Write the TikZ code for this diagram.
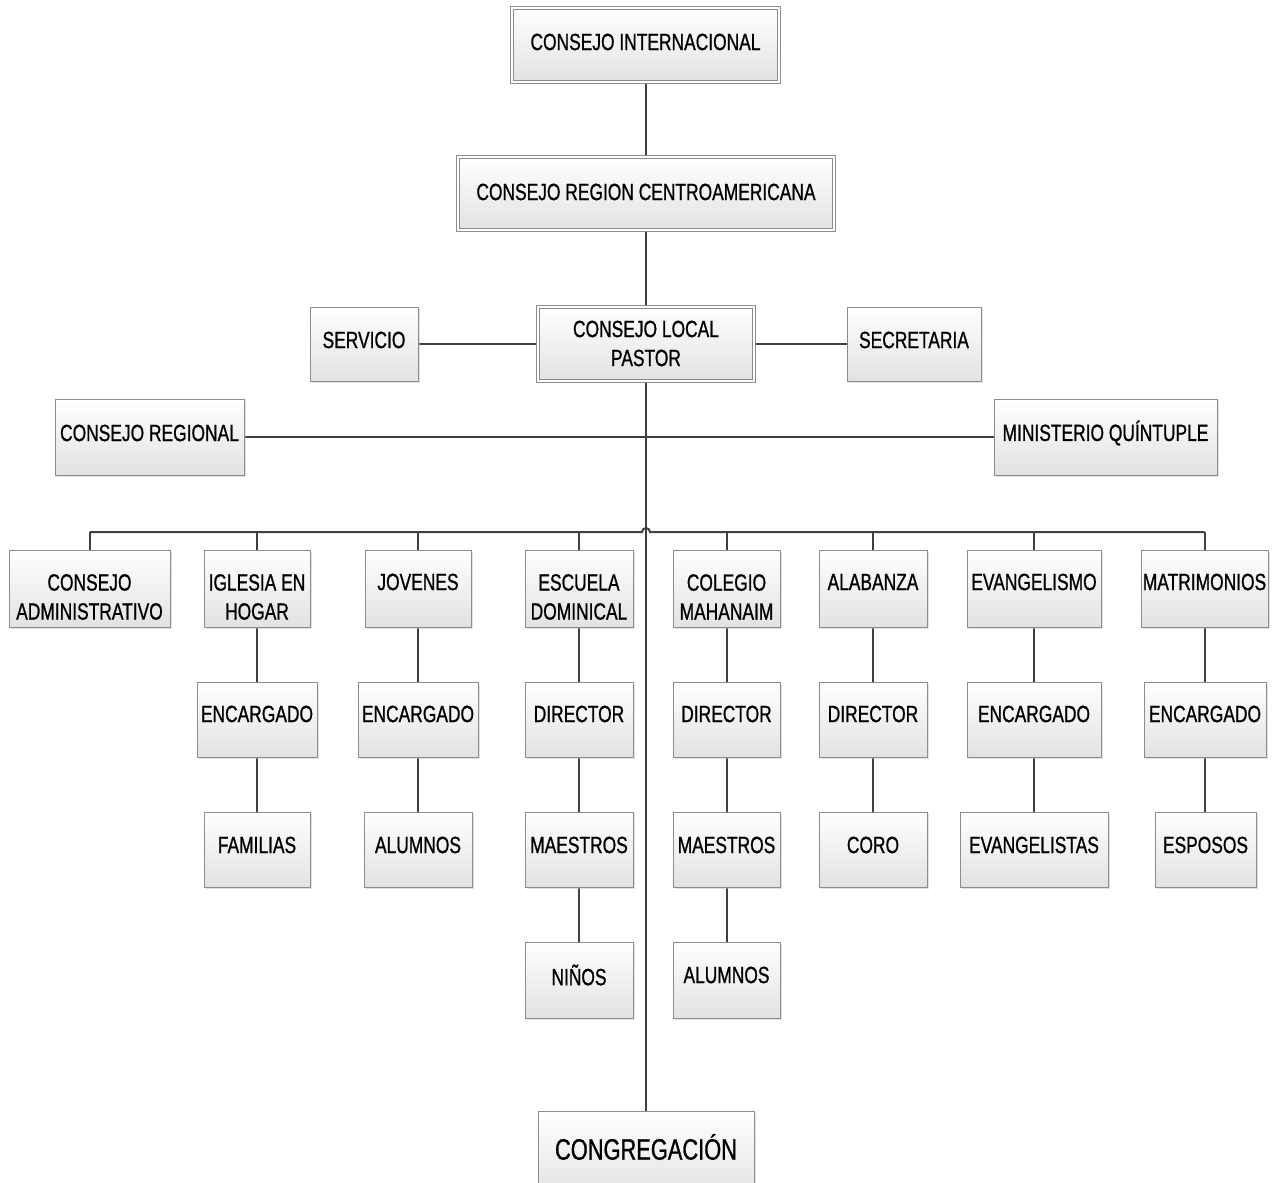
\documentclass[tikz,border=0pt]{standalone}
\usepackage{fontspec}
\setmainfont[FakeStretch=0.74,FakeBold=0.9]{Liberation Sans}
\usetikzlibrary{shadows}
\definecolor{lineC}{HTML}{404040}
\definecolor{bord}{HTML}{8C8C8C}
\definecolor{botC}{HTML}{E2E2E2}
\pgfdeclarelayer{bgzero}
\pgfdeclarelayer{lines}
\pgfsetlayers{bgzero,lines,main}
\tikzset{
  box/.style={draw=bord, line width=0.9pt, top color=white, bottom color=botC,
    drop shadow={shadow xshift=2pt, shadow yshift=-2pt, fill=black!25, opacity=0.45},
    inner sep=0pt},
  dbox/.style={box, draw=bord, line width=0.8pt, double=white, double distance=1.8pt},
  txt/.style={font=\fontsize{23.5}{29}\selectfont, align=center, inner sep=0pt, text=black},
  conn/.style={draw=lineC, line width=2pt}
}
\newcommand\obox[8][box]{%
  \node[#1, minimum width={#5-#3}, minimum height={#6-#4}] (#2) at ({(#3+#5)/2},{(#4+#6)/2}) {};
  \node[txt] (#2-t) at ({(#3+#5)/2},#7) {#8};}
\begin{document}
\begin{tikzpicture}[x=1pt,y=-1pt]
\useasboundingbox (0,0) rectangle (1278,1183);
\clip (0,0) rectangle (1278,1183);
\begin{pgfonlayer}{bgzero}
\fill[white] (0,0) rectangle (1278,1183);
\end{pgfonlayer}
% top hierarchy
\obox[dbox]{intl}{512}{8}{779}{82}{42}{CONSEJO INTERNACIONAL}
\obox[dbox]{region}{458}{157}{834}{230}{192}{CONSEJO REGION CENTROAMERICANA}
\obox[dbox]{local}{538}{307}{754}{381}{343.5}{CONSEJO LOCAL\\PASTOR}
\obox{serv}{310}{307}{418}{381}{340}{SERVICIO}
\obox{secr}{847}{307}{981}{381}{340}{SECRETARIA}
\obox{reg}{55}{399}{244}{475}{433}{CONSEJO REGIONAL}
\obox{min}{994}{399}{1217}{475}{433}{MINISTERIO QUÍNTUPLE}
% row 1
\obox{adm}{9}{550}{170}{627}{597}{CONSEJO\\ADMINISTRATIVO}
\obox{igl}{204}{550}{310}{627}{597}{IGLESIA EN\\HOGAR}
\obox{jov}{365}{550}{471}{627}{582}{JOVENES}
\obox{esc}{525}{550}{633}{627}{597}{ESCUELA\\DOMINICAL}
\obox{col}{673}{550}{780}{627}{597}{COLEGIO\\MAHANAIM}
\obox{ala}{819}{550}{927}{627}{582}{ALABANZA}
\obox{eva}{967}{550}{1101}{627}{582}{EVANGELISMO}
\obox{mat}{1141}{550}{1268}{627}{582}{MATRIMONIOS}
% row 2
\obox{encA}{197}{682}{317}{757}{714}{ENCARGADO}
\obox{encB}{358}{682}{478}{757}{714}{ENCARGADO}
\obox{dirA}{525}{682}{633}{757}{714}{DIRECTOR}
\obox{dirB}{673}{682}{780}{757}{714}{DIRECTOR}
\obox{dirC}{819}{682}{927}{757}{714}{DIRECTOR}
\obox{encC}{967}{682}{1101}{757}{714}{ENCARGADO}
\obox{encD}{1144}{682}{1266}{757}{714}{ENCARGADO}
% row 3
\obox{fam}{204}{812}{310}{887}{845}{FAMILIAS}
\obox{aluA}{364}{812}{472}{887}{845}{ALUMNOS}
\obox{maeA}{525}{812}{633}{887}{845}{MAESTROS}
\obox{maeB}{673}{812}{780}{887}{845}{MAESTROS}
\obox{coro}{819}{812}{927}{887}{845}{CORO}
\obox{evs}{960}{812}{1108}{887}{845}{EVANGELISTAS}
\obox{esp}{1155}{812}{1256}{887}{845}{ESPOSOS}
% row 4
\obox{nin}{525}{942}{633}{1018}{975}{NIÑOS}
\obox{aluB}{673}{942}{780}{1018}{975}{ALUMNOS}
\obox{congr}{538}{1111}{754}{1200}{1147}{\fontsize{29.5}{35}\selectfont CONGREGACIÓN}
% connectors
\begin{pgfonlayer}{lines}
\draw[conn] (intl.south) -- (intl.south |- region.north);
\draw[conn] (region.south) -- (region.south |- local.north);
\draw[conn] (serv) -- (local);
\draw[conn] (local) -- (secr);
\draw[conn] (local.south) -- (local.south |- congr.north);
\draw[conn] (reg) -- (min);
\coordinate (bl) at (89.5,532);
\coordinate (hop) at (646,532);
\coordinate (br) at (1204.5,532);
\draw[conn] (bl) -- ([xshift=-4pt]hop) arc[start angle=180,end angle=0,radius=4pt] -- (br);
\foreach \n in {adm,igl,jov,esc,col,ala,eva,mat}
  \draw[conn] (\n.north) -- (\n.north |- bl);
\draw[conn] (igl.south) -- (igl.south |- encA.north);
\draw[conn] (encA.south) -- (encA.south |- fam.north);
\draw[conn] (jov.south) -- (jov.south |- encB.north);
\draw[conn] (encB.south) -- (encB.south |- aluA.north);
\draw[conn] (esc.south) -- (esc.south |- dirA.north);
\draw[conn] (dirA.south) -- (dirA.south |- maeA.north);
\draw[conn] (maeA.south) -- (maeA.south |- nin.north);
\draw[conn] (col.south) -- (col.south |- dirB.north);
\draw[conn] (dirB.south) -- (dirB.south |- maeB.north);
\draw[conn] (maeB.south) -- (maeB.south |- aluB.north);
\draw[conn] (ala.south) -- (ala.south |- dirC.north);
\draw[conn] (dirC.south) -- (dirC.south |- coro.north);
\draw[conn] (eva.south) -- (eva.south |- encC.north);
\draw[conn] (encC.south) -- (encC.south |- evs.north);
\draw[conn] (mat.south) -- (mat.south |- encD.north);
\draw[conn] (encD.south) -- (encD.south |- esp.north);
\end{pgfonlayer}
\end{tikzpicture}
\end{document}
